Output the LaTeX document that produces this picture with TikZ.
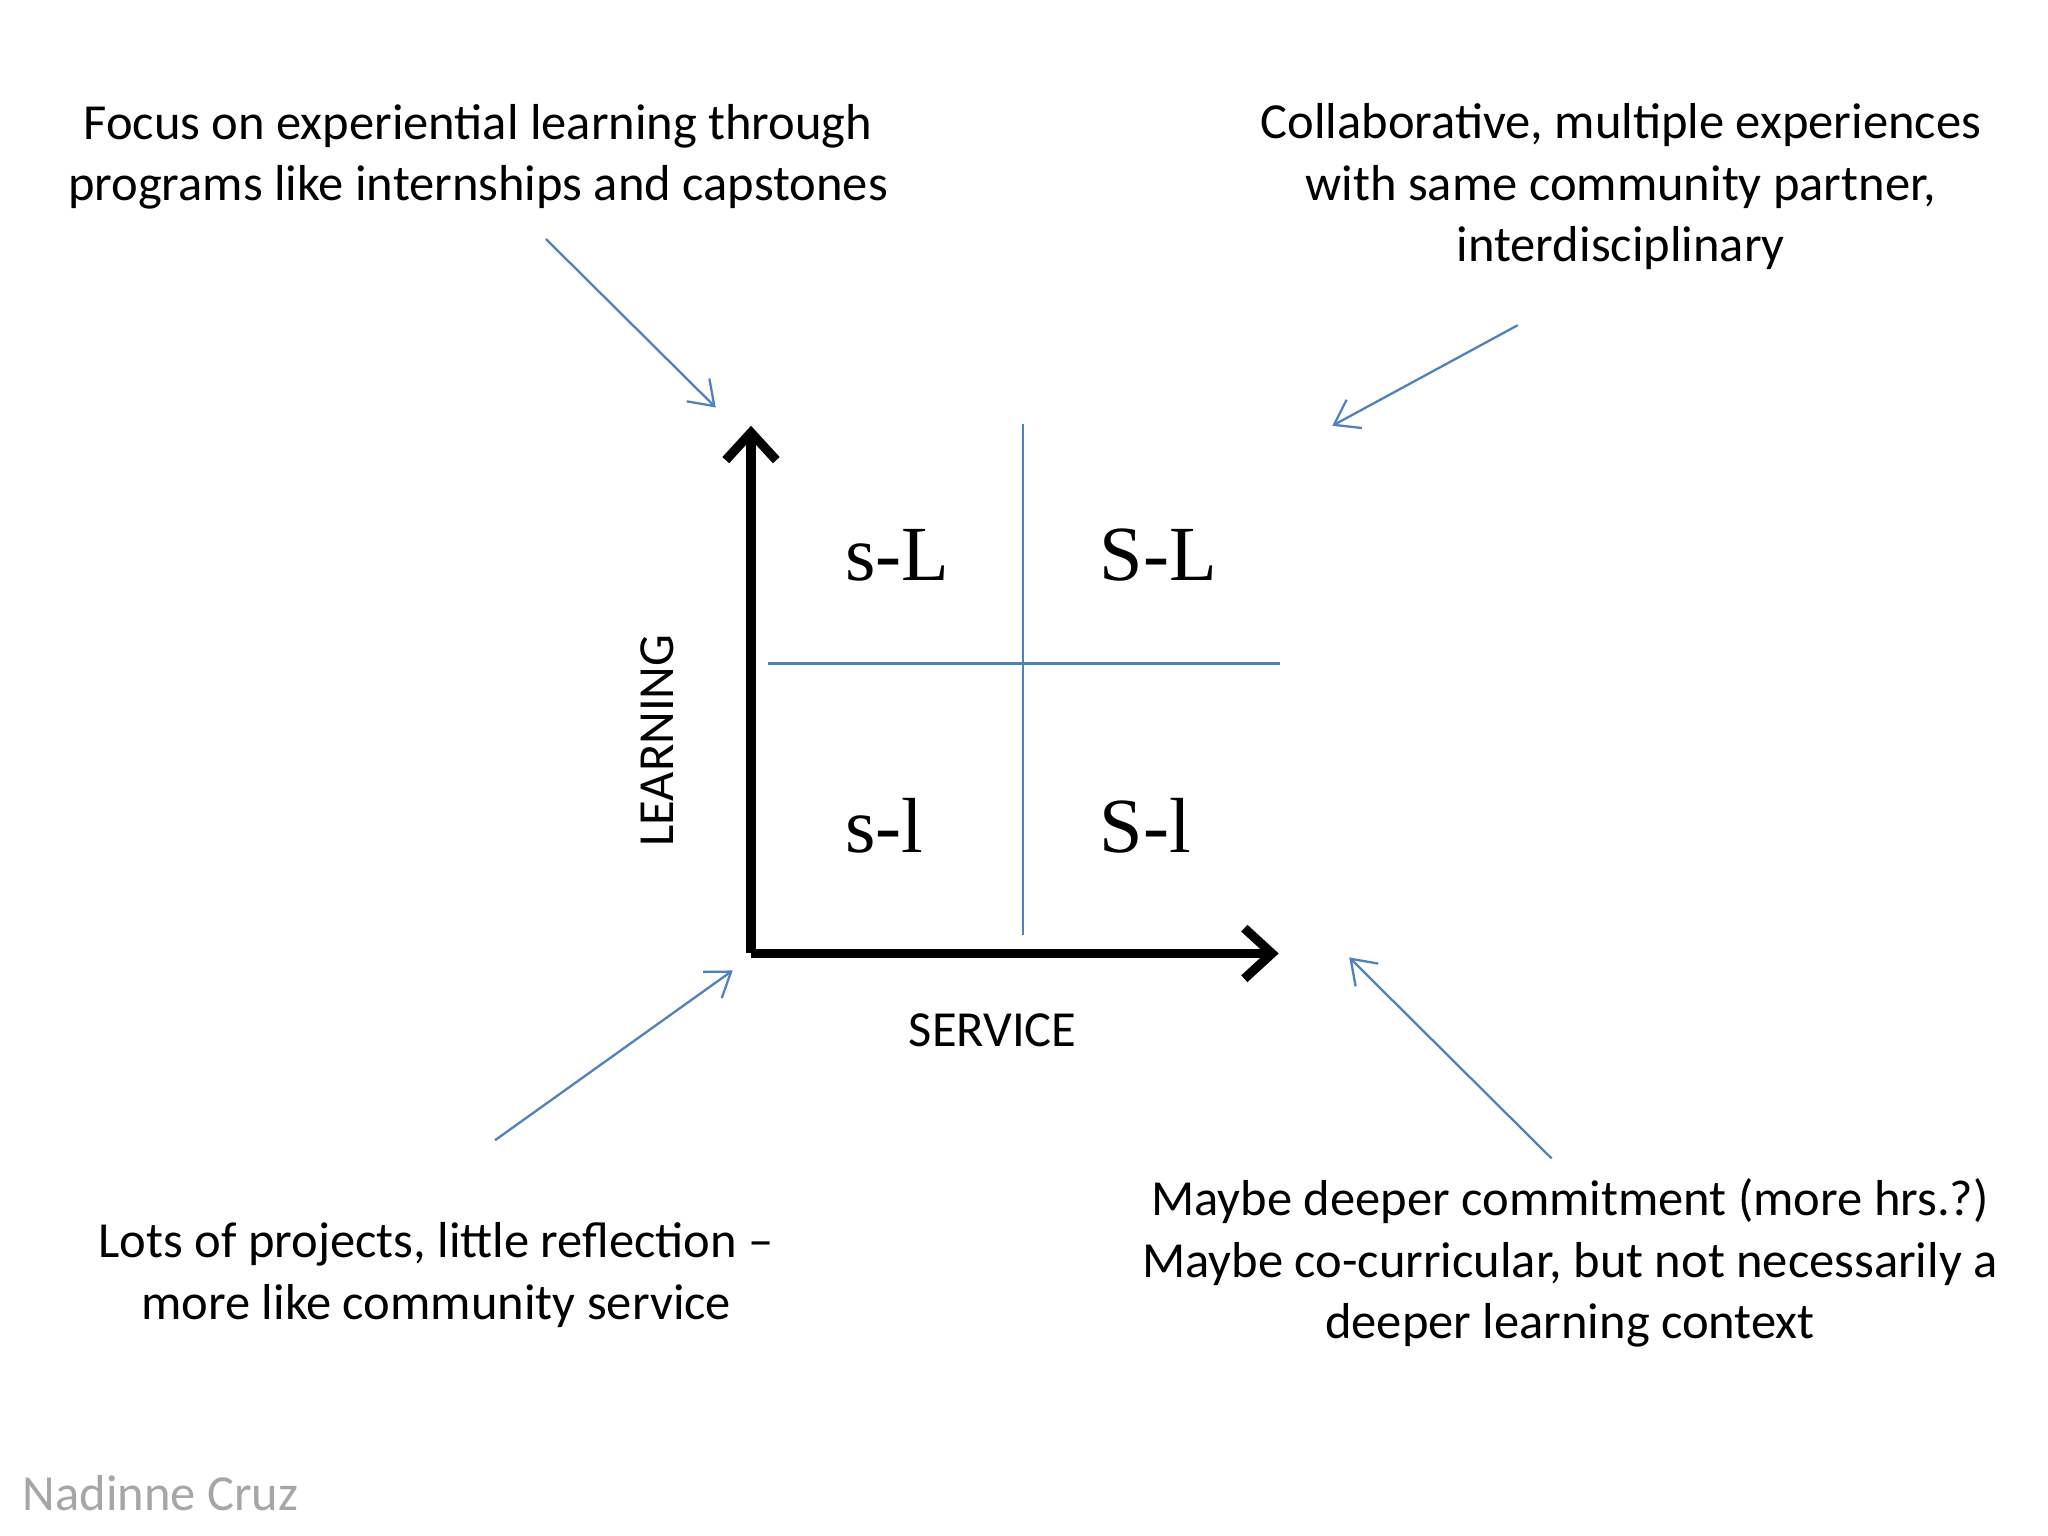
\documentclass[tikz,border=0pt]{standalone}
\usepackage{fontspec}
\setmainfont{Carlito}
\newfontfamily\serifq{Liberation Serif}
\usetikzlibrary{arrows.meta}
\definecolor{bl}{RGB}{79,129,189}
\tikzset{txt/.style={align=center,font=\fontsize{11}{13.4}\selectfont,inner sep=0},
 quad/.style={font=\serifq\fontsize{17}{17}\selectfont,inner sep=0},
 ptr/.style={draw=bl,line width=0.5pt,-{Straight Barb[length=5pt,width=7pt]}},
 grid/.style={draw=bl,line width=0.5pt},
 axis/.style={line width=2pt,-{Straight Barb[length=6pt,width=11pt,line width=2pt]}}}
\begin{document}
\begin{tikzpicture}[x=0.01cm,y=-0.01cm]
\useasboundingbox (0,0) rectangle (1568,1176);
\node[txt] (t1) at (366,120) {Focus on experiential learning through\\programs like internships and capstones};
\node[txt] (t2) at (1241,143) {Collaborative, multiple experiences\\with same community partner,\\interdisciplinary};
\node[txt] (t3) at (334,976) {Lots of projects, little reflection --\\more like community service};
\node[txt] (t4) at (1202,967) {Maybe deeper commitment (more hrs.?)\\Maybe co-curricular, but not necessarily a\\deeper learning context};
\node[txt,text=black!35] (nc) at (123,1143) {Nadinne Cruz};
\coordinate (o) at (575,730);
\coordinate (ly) at (575,326);
\coordinate (sx) at (979,730);
\draw[axis] (o) -- (ly);
\draw[axis] (o) -- (sx);
\coordinate (va) at (783,325); \coordinate (vb) at (783,716);
\coordinate (ha) at (588,508); \coordinate (hb) at (980,508);
\draw[grid] (va) -- (vb);
\draw[grid] (ha) -- (hb);
\node[quad] (q1) at (687,425) {s-L};
\node[quad] (q2) at (887,425) {S-L};
\node[quad] (q3) at (677,632) {s-l};
\node[quad] (q4) at (877,632) {S-l};
\node[txt,rotate=90] (lrn) at (503,567) {LEARNING};
\node[txt] (srv) at (760,789) {SERVICE};
\coordinate (a1s) at (418,183); \coordinate (a1e) at (548,312);
\coordinate (a2s) at (1162,249); \coordinate (a2e) at (1020,326);
\coordinate (a3s) at (379,873); \coordinate (a3e) at (561,743);
\coordinate (a4s) at (1188,887); \coordinate (a4e) at (1033,733);
\draw[ptr] (a1s) -- (a1e);
\draw[ptr] (a2s) -- (a2e);
\draw[ptr] (a3s) -- (a3e);
\draw[ptr] (a4s) -- (a4e);
\end{tikzpicture}
\end{document}
